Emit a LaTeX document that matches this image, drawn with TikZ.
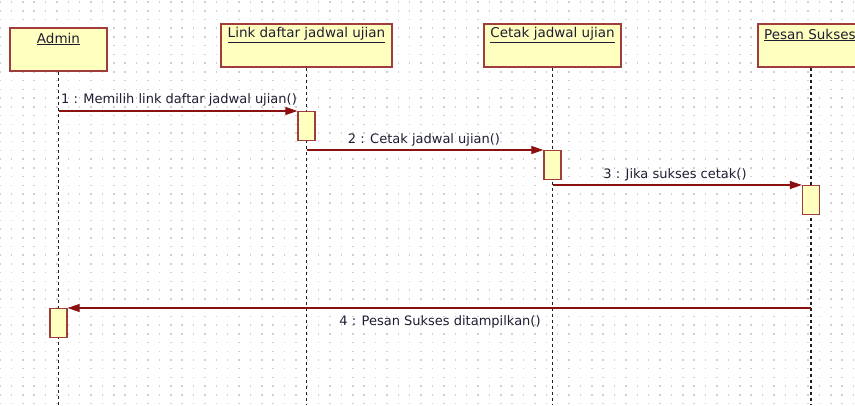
\documentclass[tikz,border=0pt]{standalone}
\usepackage{fontspec}
\setmainfont{DejaVu Sans}
\usetikzlibrary{arrows.meta}
\definecolor{boxfill}{HTML}{FFFFC0}
\definecolor{boxline}{HTML}{A03C3C}
\definecolor{msgline}{HTML}{8B1010}
\definecolor{griddot}{HTML}{CFCFCF}
\definecolor{lifegray}{HTML}{202020}
\definecolor{txt}{HTML}{1E1E32}

\begin{document}
\begin{tikzpicture}[x=1pt,y=-1pt,
  objbox/.style={draw=boxline, fill=boxfill, line width=1.6pt, rectangle, inner sep=0pt, minimum height=43pt, anchor=north},
  objlabel/.style={font=\fontsize{13.5}{15}\selectfont, text=txt, inner sep=0pt},
  actbox/.style={draw=boxline, fill=boxfill, line width=1.3pt, rectangle, inner sep=0pt, minimum width=17pt, minimum height=29pt, anchor=north},
  lifeline/.style={draw=lifegray, line width=1.7pt, dash pattern=on 3.5pt off 2.5pt},
  msg/.style={draw=msgline, line width=1.2pt, -{Triangle[length=12pt,width=8pt]}},
  msglabel/.style={font=\fontsize{13}{15}\selectfont, text=txt, inner sep=0pt}]

% canvas
\useasboundingbox (0,0) rectangle (855,405);
\clip (0,0) rectangle (855,405);
\fill[white] (0,0) rectangle (855,405);

% dotted grid
\foreach \i in {0,...,75}{
  \foreach \j in {0,...,46}{
    \fill[griddot] ({11.38*\i-0.7},{2+8.73*\j-0.7}) rectangle +(1.5,1.5);
  }
}

\coordinate (bottom) at (0,405);

% object boxes
\node[objbox, minimum width=97pt]  (admin) at (58.5,27) {};
\node[objbox, minimum width=171pt] (link)  at (306.5,23) {};
\node[objbox, minimum width=137pt] (cetak) at (552.5,23) {};
\node[objbox, minimum width=106pt] (pesan) at (811,23) {};

\node[objlabel] (adminlbl) at (58.5,39) {\underline{Admin}};
\node[objlabel] (linklbl)  at (306.5,35) {\underline{Link daftar jadwal ujian}};
\node[objlabel] (cetaklbl) at (552.5,35) {\underline{Cetak jadwal ujian}};
\node[objlabel, anchor=west] (pesanlbl) at (764,35) {\underline{Pesan Sukses}};

% lifelines
\draw[lifeline] (admin.south) -- (admin.south |- bottom);
\draw[lifeline] (link.south)  -- (link.south |- bottom);
\draw[lifeline] (cetak.south) -- (cetak.south |- bottom);
\draw[lifeline] (pesan.south) -- (pesan.south |- bottom);

% activations
\node[actbox] (act1) at (306.5,111) {};
\node[actbox] (act2) at (552.5,150) {};
\node[actbox] (act3) at (811,185) {};
\node[actbox] (act4) at (58.5,308) {};

% messages
\draw[msg] (admin.south |- act1.north) -- (act1.north west);
\draw[msg] (link.south |- act2.north)  -- (act2.north west);
\draw[msg] (cetak.south |- act3.north) -- (act3.north west);
\draw[msg] (pesan.south |- act4.north) -- (act4.north east);

\node[msglabel] (m1lbl) at (179,100) {1 : Memilih link daftar jadwal ujian()};
\node[msglabel] (m2lbl) at (424,140) {2 : Cetak jadwal ujian()};
\node[msglabel] (m3lbl) at (675,175) {3 : Jika sukses cetak()};
\node[msglabel] (m4lbl) at (440,322) {4 : Pesan Sukses ditampilkan()};
\end{tikzpicture}
\end{document}
